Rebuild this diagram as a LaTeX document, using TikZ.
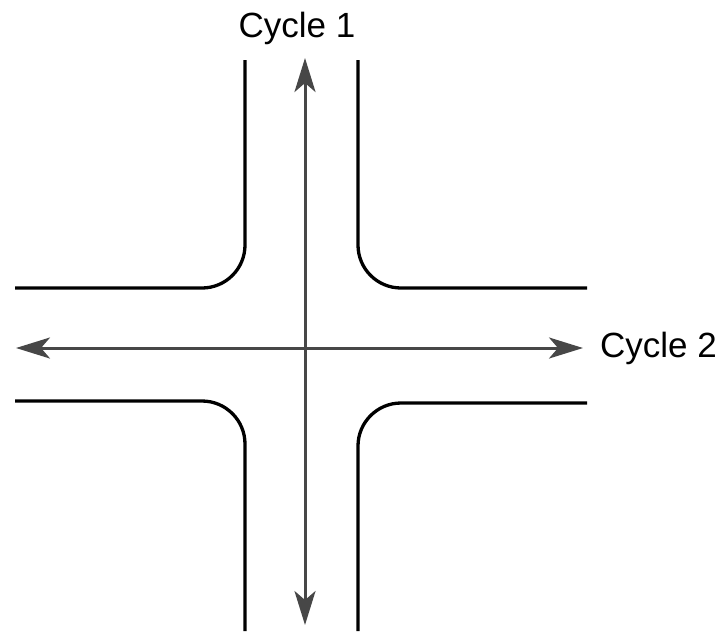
\documentclass[tikz,border=0pt]{standalone}
\usepackage{fontspec}
\setmainfont{Liberation Sans}
\usetikzlibrary{arrows.meta}
\begin{document}
\begin{tikzpicture}[x=1pt,y=-1pt,
					road/.append style={line width=3.3pt,black,rounded corners=43pt},
					cyc/.append style={{Stealth[length=34pt,width=21pt,inset=9pt]}-{Stealth[length=34pt,width=21pt,inset=9pt]},line width=3pt,color=black!72},
					lab/.append style={font=\fontsize{35}{40}\selectfont,inner sep=0pt}]
\useasboundingbox (0,0) rectangle (725,633);
\coordinate (n) at (305,58);
\coordinate (s) at (305,625);
\coordinate (w) at (16,348);
\coordinate (e) at (583,348);
\node[lab,anchor=base] (c1) at (297,37) {Cycle 1};
\node[lab,anchor=base west] (c2) at (600,357) {Cycle 2};
% kerbs
\draw[road] (245,60) -- (245,288) -- (15,288);
\draw[road] (358,60) -- (358,288) -- (587,288);
\draw[road] (15,401) -- (245,401) -- (245,631);
\draw[road] (587,403) -- (358,403) -- (358,631);
% cycles
\draw[cyc] (n) -- (s);
\draw[cyc] (w) -- (e);
\end{tikzpicture}
\end{document}
